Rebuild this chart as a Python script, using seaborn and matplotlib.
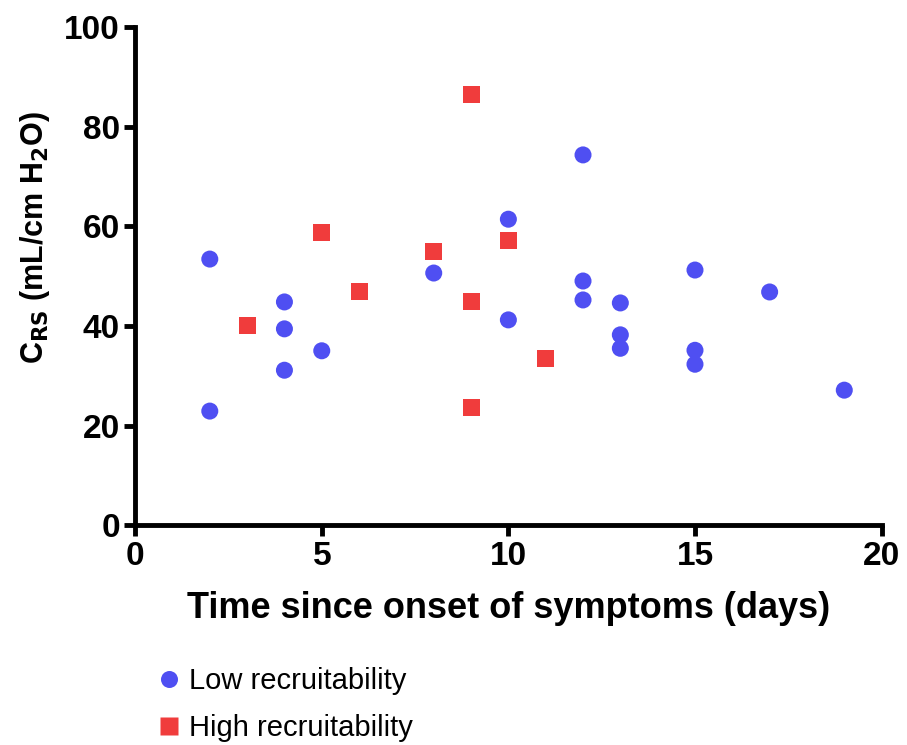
import pandas as pd
import matplotlib
matplotlib.use("Agg")
import matplotlib.pyplot as plt
import seaborn as sns

sns.set_theme(style="white")
plt.rcParams["font.family"] = ["Liberation Sans", "DejaVu Sans"]
plt.rcParams["text.color"] = "black"
plt.rcParams["axes.labelcolor"] = "black"
plt.rcParams["xtick.color"] = "black"
plt.rcParams["ytick.color"] = "black"

# low recruitability (blue circles)
low_days = [2, 2, 4, 4, 4, 5, 8, 10, 10, 12, 12, 12, 13, 13, 13, 15, 15, 15, 17, 19]
low_crs = [53.4, 22.9, 44.8, 39.4, 31.1, 35.0, 50.6, 61.4, 41.2, 74.3, 49.0, 45.2,
           44.6, 38.2, 35.5, 51.2, 35.1, 32.3, 46.8, 27.1]

# high recruitability (red squares)
high_days = [3, 5, 6, 8, 9, 9, 9, 10, 11]
high_crs = [40.0, 58.8, 46.8, 55.0, 86.5, 44.8, 23.7, 57.2, 33.5]

df = pd.DataFrame({
    "days": low_days + high_days,
    "crs": low_crs + high_crs,
    "group": ["Low recruitability"] * len(low_days) + ["High recruitability"] * len(high_days),
})

fig = plt.figure(figsize=(9.07, 7.45), dpi=100)
ax = fig.add_axes([0.149, 0.295, 0.823, 0.669])

sns.scatterplot(data=df, x="days", y="crs", hue="group", style="group",
                palette={"Low recruitability": "#4f4ff2", "High recruitability": "#f03c3c"},
                markers={"Low recruitability": "o", "High recruitability": "s"},
                s=150, edgecolor="none", ax=ax, clip_on=False)

ax.set_xlim(0, 20)
ax.set_ylim(0, 100)
ax.set_xticks([0, 5, 10, 15, 20])
ax.set_yticks([0, 20, 40, 60, 80, 100])
sns.despine(ax=ax)
for side in ["left", "bottom"]:
    ax.spines[side].set_linewidth(3.5)
    ax.spines[side].set_color("black")
ax.tick_params(axis="both", which="both", length=8, width=3.5, color="black",
               labelsize=24, left=True, bottom=True, direction="out", pad=3)
for lab in ax.get_xticklabels() + ax.get_yticklabels():
    lab.set_fontweight("bold")

ax.set_xlabel("Time since onset of symptoms (days)", fontsize=26, fontweight="bold", labelpad=14)
ax.set_ylabel(r"C$_{\mathbf{RS}}$ (mL/cm H$_{\mathbf{2}}$O)", fontsize=22, fontweight="bold")
ax.yaxis.set_label_coords(-0.112, 0.578)

handles, labels = ax.get_legend_handles_labels()
ax.legend(handles, labels, loc="upper left", bbox_to_anchor=(0.01, -0.262), frameon=False,
          fontsize=21, markerscale=1.0, handletextpad=0.2, labelspacing=0.65,
          borderaxespad=0, handlelength=1.0)

fig.savefig("out.png", dpi=100)
